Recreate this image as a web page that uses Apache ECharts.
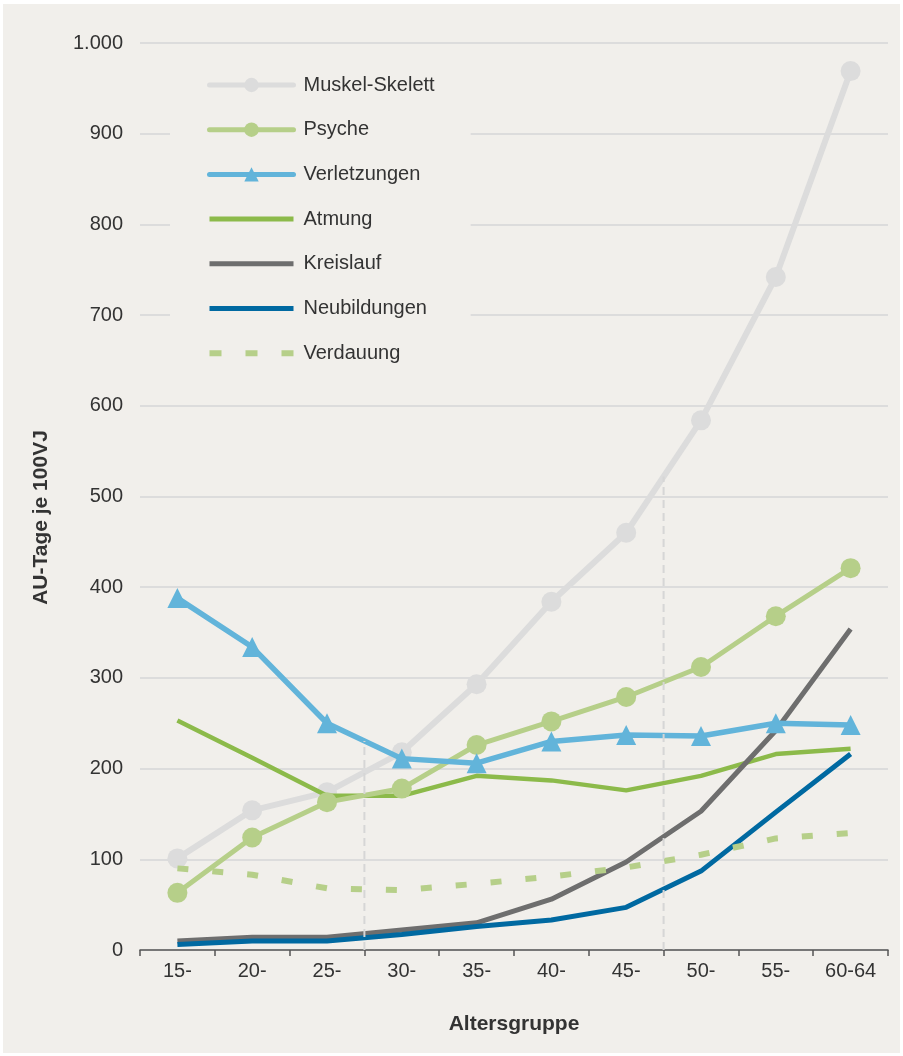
<!DOCTYPE html>
<html>
<head>
<meta charset="utf-8">
<script src="https://cdn.jsdelivr.net/npm/echarts@6/dist/echarts.min.js"></script>
<style>
    html, body { margin: 0; padding: 0; background: #ffffff; }
    #chart { position: absolute; left: 3px; top: 4px; width: 897px; height: 1049px; }
</style>
</head>
<body>
<div id="chart"></div>
<script>
    var categories = ['15-', '20-', '25-', '30-', '35-', '40-', '45-', '50-', '55-', '60-64'];
    var yTicks = [0, 100, 200, 300, 400, 500, 600, 700, 800, 900, 1000];

    var muskel = [101, 154, 174, 218, 293, 384, 460, 584, 742, 969];
    var psyche = [63, 124, 163, 178, 226, 252, 279, 312, 368, 421];
    var verletzungen = [388, 334, 250, 211, 206, 230, 237, 236, 250, 248];
    var atmung = [253, 212, 170, 170, 192, 187, 176, 192, 216, 222];
    var kreislauf = [10, 14, 14, 22, 30, 56, 97, 153, 242, 354];
    var neubildungen = [6, 10, 10, 17, 26, 33, 47, 87, 152, 216];
    var verdauung = [90, 83, 68, 66, 73, 81, 91, 105, 123, 129];

    // Trennlinien zwischen 25-/30- und 45-/50-
    var dividerAfter = [2, 6];

    var names = ['Muskel-Skelett', 'Psyche', 'Verletzungen', 'Atmung', 'Kreislauf', 'Neubildungen', 'Verdauung'];
    var allSeries = [muskel, psyche, verletzungen, atmung, kreislauf, neubildungen, verdauung];

    var bg = '#f1efeb';
    var font = 'Liberation Sans, Arial, sans-serif';
    var barIcon = 'path://M0,0h84v5h-84z';
    var dashIcon = 'path://M1,0h12v6h-12z M37,0h12v6h-12z M73,0h12v6h-12z';
    var legendIcons = {
        'Atmung': barIcon,
        'Kreislauf': barIcon,
        'Neubildungen': barIcon,
        'Verdauung': dashIcon
    };

    function fmt(v) {
        return String(v).replace(/\B(?=(\d{3})+(?!\d))/g, '.');
    }

    function lineSeries(name, data, color, width, symbol, size, z) {
        return {
            name: name,
            type: 'line',
            data: data,
            z: z,
            symbol: symbol || 'none',
            symbolSize: size || 0,
            showSymbol: !!symbol,
            itemStyle: { color: color },
            lineStyle: { color: color, width: width },
            emphasis: { disabled: true },
            animation: false
        };
    }

    var series = [
        lineSeries('Muskel-Skelett', muskel, '#dcdcdc', 6, 'circle', 20, 2),
        lineSeries('Atmung', atmung, '#8cba4a', 4.5, null, 0, 3),
        lineSeries('Kreislauf', kreislauf, '#6e6e6e', 5, null, 0, 3),
        lineSeries('Neubildungen', neubildungen, '#0069a1', 5, null, 0, 3),
        lineSeries('Psyche', psyche, '#b6cf89', 5, 'circle', 20, 4),
        lineSeries('Verletzungen', verletzungen, '#62b4da', 5.5, 'triangle', 20, 4)
    ];
    var verd = lineSeries('Verdauung', verdauung, '#b6cf89', 6, null, 0, 3);
    verd.lineStyle.type = [11, 24];
    series.push(verd);

    dividerAfter.forEach(function (i) {
        var h = 0;
        allSeries.forEach(function (s) {
            h = Math.max(h, (s[i] + s[i + 1]) / 2);
        });
        series.push({
            type: 'line',
            xAxisIndex: 1,
            data: [[i + 1, 0], [i + 1, h]],
            symbol: 'none',
            z: 5,
            silent: true,
            lineStyle: { color: '#d6d6d6', width: 2, type: [8, 5] },
            animation: false
        });
    });

    var legendData = names.map(function (n) {
        return legendIcons[n] ? { name: n, icon: legendIcons[n] } : { name: n };
    });

    var option = {
        backgroundColor: bg,
        textStyle: { fontFamily: font },
        grid: { left: 137, right: 12, top: 39, bottom: 103 },
        legend: {
            data: legendData,
            orient: 'vertical',
            left: 167,
            top: 51,
            backgroundColor: bg,
            padding: [20, 36, 25, 37],
            itemWidth: 84,
            itemHeight: 18,
            itemGap: 24.7,
            lineStyle: { width: 5, cap: 'round' },
            textStyle: { fontFamily: font, fontSize: 20, lineHeight: 20, color: '#333', padding: [0, 0, 0, 5] }
        },
        xAxis: [{
            type: 'category',
            data: categories,
            boundaryGap: true,
            name: 'Altersgruppe',
            nameLocation: 'middle',
            nameGap: 64,
            nameTextStyle: { fontFamily: font, fontSize: 21, fontWeight: 'bold', color: '#333' },
            axisLine: { lineStyle: { color: '#555', width: 1.5 } },
            axisTick: { show: true, length: 6, lineStyle: { color: '#555', width: 1.5 } },
            axisLabel: { fontFamily: font, fontSize: 20, color: '#333', margin: 11 },
            splitLine: { show: false }
        }, {
            type: 'value',
            min: 0,
            max: categories.length,
            show: false
        }],
        yAxis: {
            type: 'value',
            min: yTicks[0],
            max: yTicks[yTicks.length - 1],
            interval: 100,
            name: 'AU-Tage je 100VJ',
            nameLocation: 'middle',
            nameGap: 88,
            nameTextStyle: { fontFamily: font, fontSize: 21, fontWeight: 'bold', color: '#333', padding: [0, 42, 0, 0] },
            axisLine: { show: false },
            axisTick: { show: false },
            axisLabel: { fontFamily: font, fontSize: 20, color: '#333', margin: 17, formatter: fmt },
            splitLine: { lineStyle: { color: '#dcdcdc', width: 2 } }
        },
        series: series
    };

    echarts.init(document.getElementById('chart')).setOption(option);
</script>
</body>
</html>
